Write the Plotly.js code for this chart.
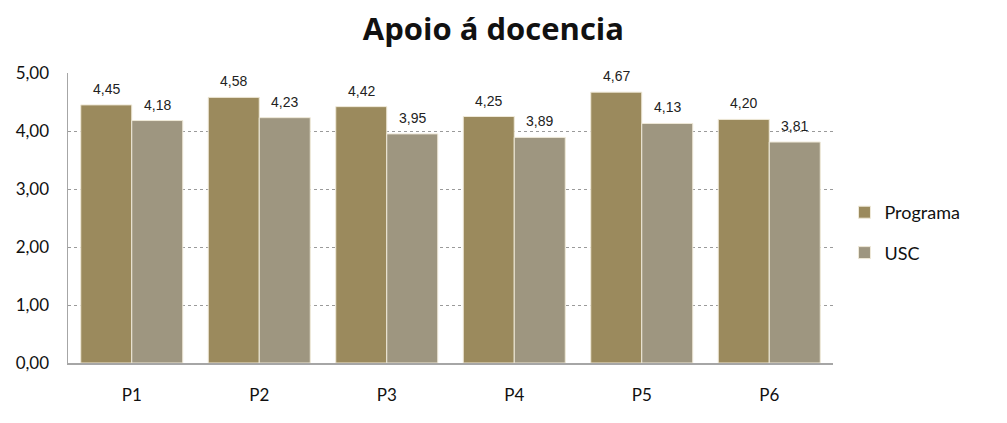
<!DOCTYPE html>
<html>
<head>
<meta charset="utf-8">
<script src="https://cdn.plot.ly/plotly-3.0.1.min.js"></script>
<style>html,body{margin:0;padding:0;background:#fff;}#chart{width:1007px;height:423px;}</style>
</head>
<body>
<div id="chart"></div>
<script>
var categories = ['P1','P2','P3','P4','P5','P6'];
var programa = [4.45, 4.58, 4.42, 4.25, 4.67, 4.20];
var usc = [4.18, 4.23, 3.95, 3.89, 4.13, 3.81];
var seriesNames = ['Programa', 'USC'];
var yTicks = [0,1,2,3,4,5];

var labelFont = {family: 'Liberation Sans Narrow, Arial Narrow, sans-serif', size: 14, color: '#222'};
function mk(name, vals, color, grp){
  return {
    type: 'bar', name: name, x: categories, y: vals,
    marker: {color: color, line: {color: '#efe9d8', width: 1}},
    legendgroup: grp, hoverinfo: 'none'
  };
}
var data = [
  mk(seriesNames[0], programa, '#9b8a5d', 'a'),
  mk(seriesNames[1], usc, '#9e9680', 'b')
];
var annotations = [];
[programa, usc].forEach(function(vals, s){
  vals.forEach(function(v, i){
    annotations.push({x: categories[i], y: v, xref: 'x', yref: 'y', text: v.toFixed(2).replace('.', ','),
      showarrow: false, xanchor: 'center', yanchor: 'bottom', xshift: s === 0 ? -25.5 : 25.5, yshift: 6,
      font: labelFont});
  });
});
var layout = {
  width: 1007, height: 423,
  margin: {l: 68, r: 174, t: 73, b: 60},
  separators: ',.',
  paper_bgcolor: '#fff', plot_bgcolor: '#fff',
  title: {text: '<b>Apoio á docencia</b>', font: {family: 'Open Sans, sans-serif', size: 31, color: '#111'}, x: 0.49, xanchor: 'center', y: 0.93, yanchor: 'middle'},
  font: {family: 'Lato, sans-serif', size: 17, color: '#111'},
  bargap: 0.2, bargroupgap: 0,
  annotations: annotations,
  xaxis: {showline: true, linecolor: '#a6a6a6', linewidth: 1.5, ticks: '', ticklabelstandoff: 16, tickfont: {size: 17}},
  yaxis: {range: [0, 5], tickvals: yTicks, tickformat: '.2f', showgrid: true, gridcolor: '#9a9a9a', griddash: 'dot', gridwidth: 1,
          showline: true, linecolor: '#a6a6a6', linewidth: 1.5, zeroline: false, ticks: '', ticklabelstandoff: 14, tickfont: {size: 17}},
  legend: {x: 1.015, xanchor: 'left', y: 0.45, yanchor: 'middle', traceorder: 'grouped', tracegroupgap: 14, font: {size: 18}, itemwidth: 30},
  showlegend: true
};
Plotly.newPlot('chart', data, layout, {displayModeBar: false, staticPlot: true});
</script>
</body>
</html>
